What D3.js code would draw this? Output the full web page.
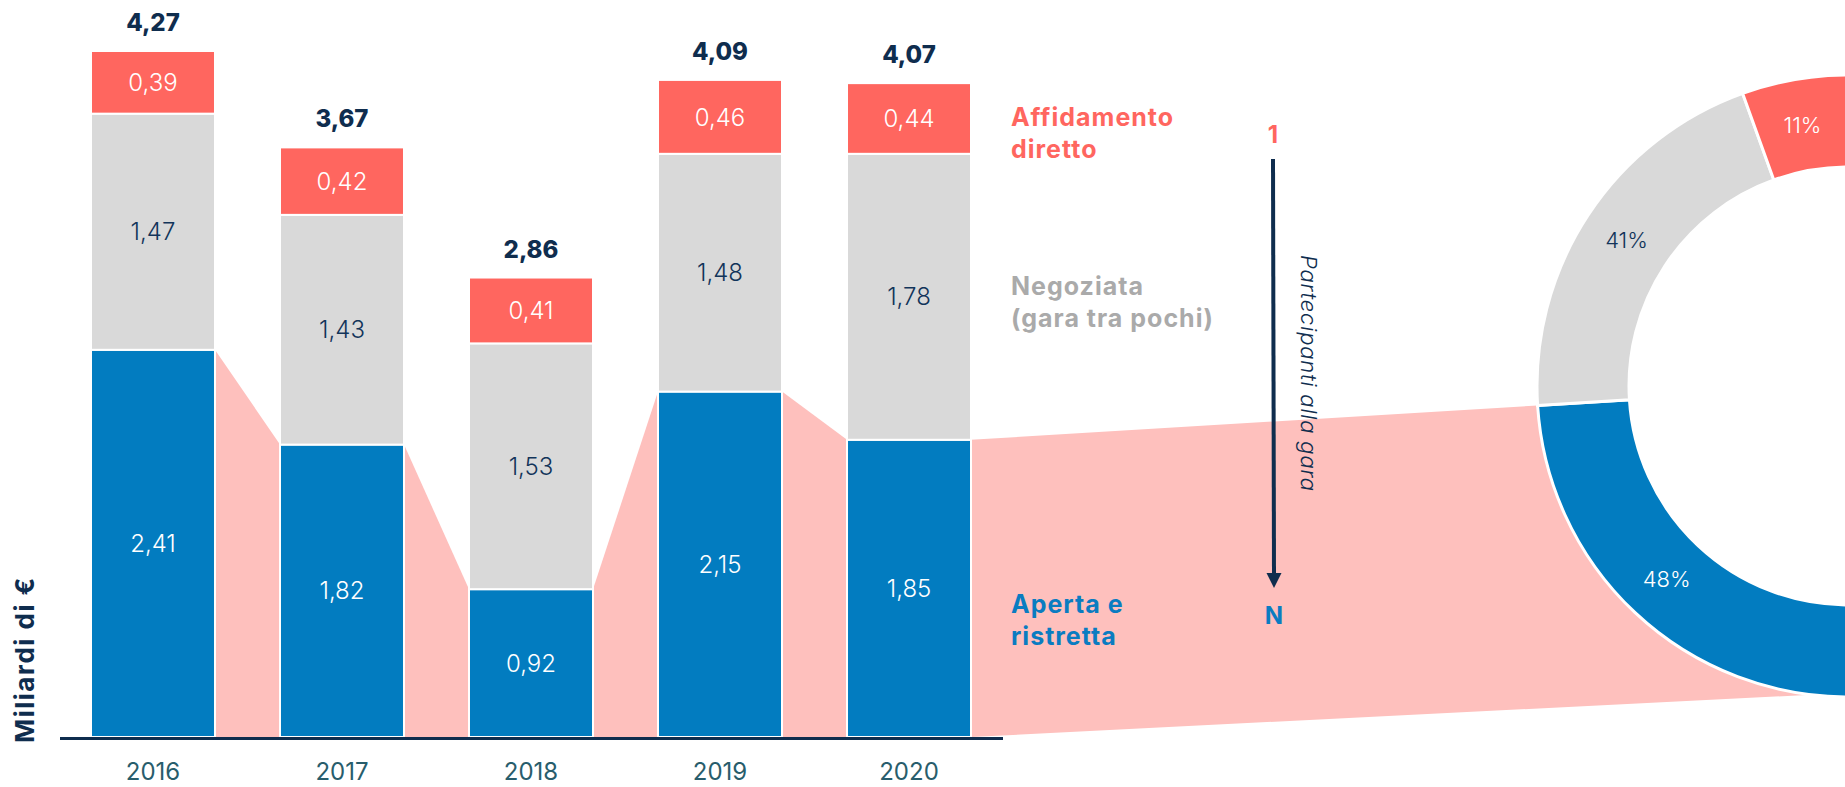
<!DOCTYPE html>
<html lang="it">
<head>
<meta charset="UTF-8">
<title>Procedure di gara 2016-2020</title>
<script src="https://d3js.org/d3.v7.min.js"></script>
<style>
  body { margin: 0; background: #fff; overflow: hidden; }
  svg text { font-family: Inter, "Open Sans", sans-serif; }
</style>
</head>
<body>
<div id="chart"></div>

<script>
    // data (billions of euro)
    const years = ["2016", "2017", "2018", "2019", "2020"];
    const aperta = [2.41, 1.82, 0.92, 2.15, 1.85];
    const negoziata = [1.47, 1.43, 1.53, 1.48, 1.78];
    const affidamento = [0.39, 0.42, 0.41, 0.46, 0.44];
    const totals = [4.27, 3.67, 2.86, 4.09, 4.07];

    // share of 2020 by procedure (half donut)
    const shares = [48, 41, 11];
    const shareLabels = ["48%", "41%", "11%"];

    const keys = ["aperta", "negoziata", "affidamento"];
    const colors = { aperta: "#027cc0", negoziata: "#d9d9d9", affidamento: "#ff665f" };
    const labelColors = { aperta: "#fff", negoziata: "#12345a", affidamento: "#fff" };
    const navy = "#0f2d4e";
    const pink = "#fec0bd";

    const width = 1845, height = 787;

    const it = d3.formatLocale({ decimal: ",", thousands: ".", grouping: [3], currency: ["€", ""] });
    const fmt = it.format(".2f");

    const rows = years.map((yr, i) => ({
        year: yr, aperta: aperta[i], negoziata: negoziata[i], affidamento: affidamento[i]
    }));
    const stacked = d3.stack().keys(keys)(rows);

    const svg = d3.select("#chart")
      .append("svg")
        .attr("width", width)
        .attr("height", height);

    const x = d3.scaleBand()
        .domain(years)
        .range([91, 971])
        .paddingInner(0.344)
        .paddingOuter(0);

    const y = d3.scaleLinear()
        .domain([0, 4.27])
        .range([737, 51]);

    // donut geometry
    const cx = 1848, cy = 386, rOut = 311, rIn = 219;
    const pie = d3.pie().sort(null).startAngle(Math.PI).endAngle(2 * Math.PI);
    const arcsData = pie(shares);
    const arc = d3.arc().innerRadius(rIn).outerRadius(rOut);
    const pt = (a, r) => [cx + r * Math.sin(a), cy - r * Math.cos(a)];

    // pink ribbons linking the "aperta" tops
    const ribbons = svg.append("g");
    for (let i = 0; i < years.length - 1; i++) {
        const x0 = x(years[i]) + x.bandwidth(), x1 = x(years[i + 1]);
        const pts = [[x0, y(aperta[i])], [x1, y(aperta[i + 1])], [x1, y(0)], [x0, y(0)]];
        ribbons.append("path")
            .attr("d", d3.line()(pts) + "Z")
            .attr("fill", pink);
    }
    // last ribbon to the donut's blue slice
    {
        const x0 = x(years[4]) + x.bandwidth();
        const top = pt(arcsData[0].endAngle, rOut);
        const bot = pt(arcsData[0].startAngle + 0.12, rOut);
        ribbons.append("path")
            .attr("d", `M${x0},${y(aperta[4])}L${top[0]},${top[1]}A${rOut},${rOut} 0 0 0 ${bot[0]},${bot[1]}L${x0},${y(0)}Z`)
            .attr("fill", pink);
    }

    // stacked bars
    const layer = svg.selectAll("g.layer")
      .data(stacked)
      .join("g")
        .attr("class", "layer")
        .attr("fill", d => colors[d.key]);

    layer.selectAll("rect")
      .data(d => d)
      .join("rect")
        .attr("x", d => x(d.data.year))
        .attr("y", d => y(d[1]))
        .attr("width", x.bandwidth())
        .attr("height", d => y(d[0]) - y(d[1]))
        .attr("stroke", "#fff")
        .attr("stroke-width", 2);

    layer.selectAll("text")
      .data(d => d.map(v => Object.assign(v, { key: d.key })))
      .join("text")
        .attr("x", d => x(d.data.year) + x.bandwidth() / 2)
        .attr("y", d => (y(d[0]) + y(d[1])) / 2)
        .attr("dy", "0.36em")
        .attr("text-anchor", "middle")
        .attr("fill", d => labelColors[d.key])
        .style("font-size", "24px")
        .style("font-weight", 300)
        .text(d => fmt(d[1] - d[0]));

    // totals
    svg.selectAll("text.total")
      .data(totals)
      .join("text")
        .attr("class", "total")
        .attr("x", (d, i) => x(years[i]) + x.bandwidth() / 2)
        .attr("y", d => y(d) - 20)
        .attr("text-anchor", "middle")
        .attr("fill", navy)
        .style("font-size", "24px")
        .style("font-weight", 800)
        .text(d => fmt(d));

    // base line and years
    svg.append("line")
        .attr("x1", 60).attr("x2", 1003)
        .attr("y1", y(0) + 1.5).attr("y2", y(0) + 1.5)
        .attr("stroke", navy)
        .attr("stroke-width", 3);

    svg.selectAll("text.year")
      .data(years)
      .join("text")
        .attr("class", "year")
        .attr("x", d => x(d) + x.bandwidth() / 2)
        .attr("y", 780)
        .attr("text-anchor", "middle")
        .attr("fill", "#285d6c")
        .style("font-size", "24px")
        .text(d => d);

    svg.append("text")
        .attr("transform", "translate(34,743) rotate(-90)")
        .attr("fill", navy)
        .style("font-size", "26px")
        .style("font-weight", 700)
        .style("letter-spacing", "1.5px")
        .text("Miliardi di €");

    // series labels
    const legend = [
        { lines: ["Affidamento", "diretto"], y: 126, color: "#ff665f" },
        { lines: ["Negoziata", "(gara tra pochi)"], y: 295, color: "#aaaaaa" },
        { lines: ["Aperta e", "ristretta"], y: 613, color: "#0a7cc1" }
    ];
    legend.forEach(l => {
        const t = svg.append("text")
            .attr("x", 1011).attr("y", l.y)
            .attr("fill", l.color)
            .style("font-size", "25px")
            .style("font-weight", 700)
            .style("letter-spacing", "1px");
        l.lines.forEach((s, j) => {
            t.append("tspan").attr("x", 1011).attr("dy", j ? 32 : 0).text(s);
        });
    });

    // participants arrow
    svg.append("text")
        .attr("x", 1273).attr("y", 143)
        .attr("text-anchor", "middle")
        .attr("fill", "#ff665f")
        .style("font-size", "24px").style("font-weight", 700)
        .text("1");
    svg.append("line")
        .attr("x1", 1273).attr("y1", 159)
        .attr("x2", 1274).attr("y2", 576)
        .attr("stroke", navy).attr("stroke-width", 4);
    svg.append("path")
        .attr("d", "M1266.5,573L1281.5,573L1274,588Z")
        .attr("fill", navy);
    svg.append("text")
        .attr("x", 1274).attr("y", 624)
        .attr("text-anchor", "middle")
        .attr("fill", "#0a7cc1")
        .style("font-size", "24px").style("font-weight", 700)
        .text("N");
    svg.append("text")
        .attr("transform", "translate(1301,255) rotate(90)")
        .attr("fill", navy)
        .style("font-size", "22px")
        .style("font-style", "italic")
        .style("font-weight", 300)
        .style("letter-spacing", "0.8px")
        .text("Partecipanti alla gara");

    // half donut
    const donut = svg.append("g");
    donut.selectAll("path")
      .data(arcsData)
      .join("path")
        .attr("transform", `translate(${cx},${cy})`)
        .attr("d", arc)
        .attr("fill", (d, i) => colors[keys[i]])
        .attr("stroke", "#fff")
        .attr("stroke-width", 3);

    donut.selectAll("text")
      .data(arcsData)
      .join("text")
        .attr("transform", d => `translate(${cx + arc.centroid(d)[0]},${cy + arc.centroid(d)[1]})`)
        .attr("dy", "0.36em")
        .attr("text-anchor", "middle")
        .attr("fill", (d, i) => labelColors[keys[i]])
        .style("font-size", "22px")
        .style("font-weight", 300)
        .text((d, i) => shareLabels[i]);
</script>
</body>
</html>
